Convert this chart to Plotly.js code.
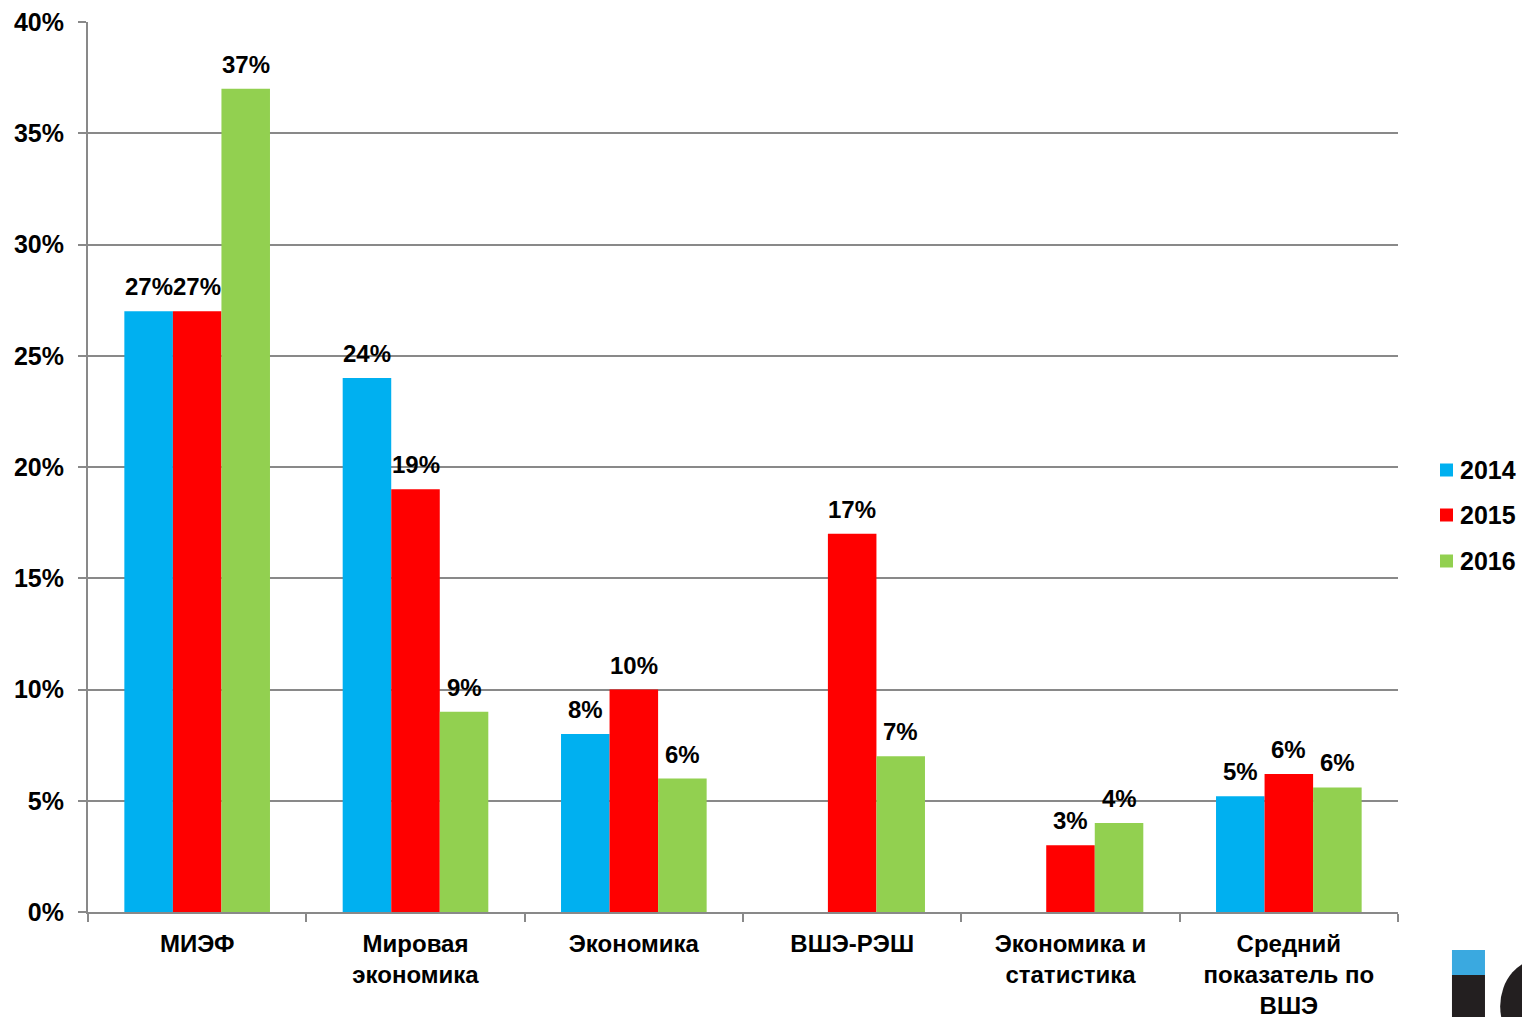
<!DOCTYPE html>
<html>
<head>
<meta charset="utf-8">
<script src="https://cdn.plot.ly/plotly-3.0.1.min.js"></script>
<style>html,body{margin:0;padding:0;background:#fff;}#chart{width:1522px;height:1017px;}</style>
</head>
<body>
<div id="chart"></div>
<script>
const categories = ["МИЭФ", "Мировая<br>экономика", "Экономика", "ВШЭ-РЭШ", "Экономика и<br>статистика", "Средний<br>показатель по<br>ВШЭ"];
const years = ["2014", "2015", "2016"];
const values2014 = [27, 24, 8, null, null, 5.2];
const values2015 = [27, 19, 10, 17, 3, 6.2];
const values2016 = [37, 9, 6, 7, 4, 5.6];
const yTickVals = [0, 5, 10, 15, 20, 25, 30, 35, 40];
const yTickText = ["0%", "5%", "10%", "15%", "20%", "25%", "30%", "35%", "40%"];

const colors = ["#00B0F0", "#FF0000", "#92D050"];
const seriesValues = [values2014, values2015, values2016];
const FONT = "Liberation Sans, Arial, sans-serif";

const W = 1522, H = 1017;
const M = {l: 88, r: 124, t: 22, b: 105};
const plotW = W - M.l - M.r, plotH = H - M.t - M.b;
const BARGAP = 0.333;
const barPx = plotW / categories.length * (1 - BARGAP) / seriesValues.length;

const traces = seriesValues.map((vals, i) => ({
  type: "bar",
  name: years[i],
  x: categories,
  y: vals,
  marker: {color: colors[i], line: {width: 0}},
  hoverinfo: "none",
  showlegend: false
}));

// data labels
const annotations = [];
seriesValues.forEach((vals, i) => {
  vals.forEach((v, j) => {
    if (v === null) return;
    annotations.push({
      xref: "x", yref: "y", x: categories[j], y: v,
      text: Math.round(v) + "%",
      showarrow: false, xanchor: "center", yanchor: "bottom",
      xshift: (i - (seriesValues.length - 1) / 2) * barPx,
      yshift: 9,
      font: {family: FONT, size: 24, color: "#000", weight: "bold"}
    });
  });
});

// manual legend
const shapes = [];
const legendY = [470, 515, 561];
years.forEach((yr, i) => {
  const py = (M.t + plotH - legendY[i]) / plotH;
  shapes.push({
    type: "rect", xref: "paper", yref: "paper",
    xsizemode: "pixel", ysizemode: "pixel",
    xanchor: (1440 - M.l) / plotW, yanchor: py,
    x0: 0, x1: 13, y0: -6.5, y1: 6.5,
    fillcolor: colors[i], line: {width: 0}
  });
  annotations.push({
    xref: "paper", yref: "paper", x: (1458 - M.l) / plotW, y: py,
    xanchor: "left", yanchor: "middle", showarrow: false,
    text: yr, font: {family: FONT, size: 25, color: "#000", weight: "bold"}
  });
});

// logo fragment at bottom right
shapes.push(
  {type: "rect", xref: "paper", yref: "paper", x0: 1.0412, x1: 1.0664, y0: -0.0427, y1: -0.0708, fillcolor: "#3aa9e0", line: {width: 0}},
  {type: "rect", xref: "paper", yref: "paper", x0: 1.0412, x1: 1.0664, y0: -0.0708, y1: -0.125, fillcolor: "#231f20", line: {width: 0}},
  {type: "circle", xref: "paper", yref: "paper", x0: 1.078, x1: 1.142, y0: -0.052, y1: -0.16, fillcolor: "#231f20", line: {width: 0}}
);

const layout = {
  width: W, height: H,
  margin: M,
  paper_bgcolor: "#fff", plot_bgcolor: "#fff",
  barmode: "group",
  bargap: BARGAP, bargroupgap: 0,
  font: {family: FONT, color: "#000"},
  showlegend: false,
  xaxis: {
    type: "category",
    showgrid: false,
    showline: true, linecolor: "#898989", linewidth: 2,
    ticks: "outside", tickson: "boundaries", ticklen: 8, tickcolor: "#898989", tickwidth: 2,
    ticklabelstandoff: 9,
    tickfont: {family: FONT, size: 24, color: "#000", weight: "bold"},
    fixedrange: true
  },
  yaxis: {
    range: [0, 40],
    tickmode: "array", tickvals: yTickVals, ticktext: yTickText,
    showgrid: true, gridcolor: "#898989", gridwidth: 2,
    showline: true, linecolor: "#898989", linewidth: 2,
    ticks: "outside", ticklen: 8, tickcolor: "#898989", tickwidth: 2,
    ticklabelstandoff: 9,
    tickfont: {family: FONT, size: 25, color: "#000", weight: "bold"},
    zeroline: false,
    fixedrange: true
  },
  annotations: annotations,
  shapes: shapes
};

Plotly.newPlot("chart", traces, layout, {displayModeBar: false, staticPlot: true});
</script>
</body>
</html>
